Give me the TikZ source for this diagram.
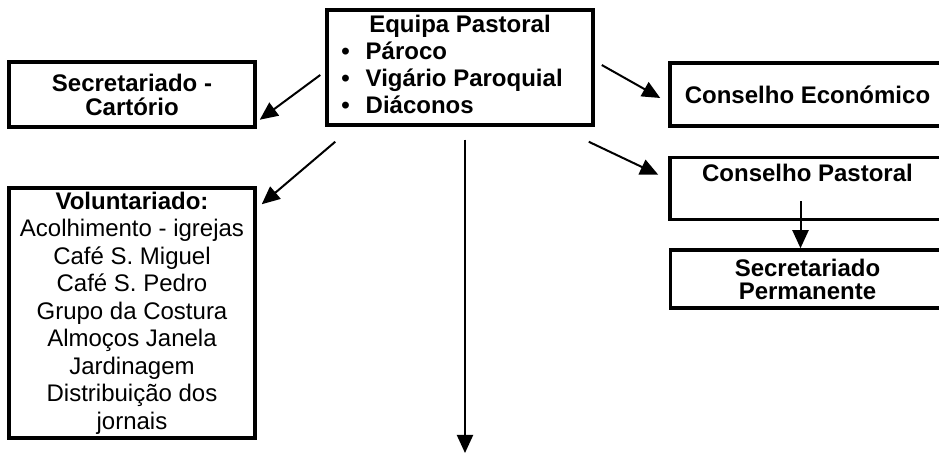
\documentclass[tikz,border=0pt]{standalone}
\usepackage{fontspec}
\setmainfont{Liberation Sans}
\usetikzlibrary{arrows.meta,positioning}

\begin{document}
\begin{tikzpicture}
[x=0.5pt,y=-0.5pt,
box/.style={draw=black,line width=1.75pt,inner sep=0pt,align=center,font=\fontsize{12}{11.5}\selectfont\bfseries},
arr/.style={-{Triangle[length=9pt,width=8pt]},line width=1pt}]

\useasboundingbox (0,0) rectangle (939,454);
\clip (0,0) rectangle (939,454);

% centre
\node[box,minimum width=133pt,minimum height=57.5pt] (equipa) at (460,67.5)
  {\fontsize{12}{13.6}\selectfont
   \begin{tabular}{@{}c@{\hspace{8pt}}l@{\hspace{8pt}}}
   \multicolumn{2}{c}{Equipa Pastoral}\\
   \textbullet & Pároco\\
   \textbullet & Vigário Paroquial\\
   \textbullet & Diáconos
   \end{tabular}};

% left
\node[box,minimum width=123pt,minimum height=32.5pt,font=\fontsize{12}{12}\selectfont\bfseries] (sec) at (132,94.5) {Secretariado -\\Cartório};
\node[box,minimum width=123pt,minimum height=125pt,font=\fontsize{12}{13.75}\selectfont] (vol) at (132,313)
  {\textbf{Voluntariado:}\\Acolhimento - igrejas\\Café S. Miguel\\Café S. Pedro\\Grupo da Costura\\Almoços Janela\\Jardinagem\\Distribuição dos\\jornais};

% right
\node[box,minimum width=137.5pt,minimum height=31.5pt] (econ) at (807.5,94.5) {Conselho Económico};
\node[box,minimum width=137.5pt,inner ysep=3pt,text height=9pt,text depth=16pt,anchor=north] (past) at (807.5,156) {Conselho Pastoral};
\node[box,minimum width=137pt,minimum height=29pt] (perm) at (807.5,279) {Secretariado\\Permanente};

\coordinate (bottom) at (465,453);

\draw[arr] ([shift={(-5,7.5)}]equipa.west) -- ([shift={(3,-9)}]sec.south east);
\draw[arr] ([shift={(10,15)}]equipa.south west) -- ([shift={(5,18)}]vol.north east);
\draw[arr] ([shift={(7,-2.5)}]equipa.east) -- ([shift={(-8,3.5)}]econ.west);
\draw[arr] ([shift={(-6,15)}]equipa.south east) -- ([shift={(-10,-14)}]past.west);
\draw[arr] ([shift={(5,13)}]equipa.south) -- (bottom);
\draw[arr] ([shift={(-7,-20)}]past.south) -- ([xshift=-3.5pt]perm.north);
\end{tikzpicture}
\end{document}
